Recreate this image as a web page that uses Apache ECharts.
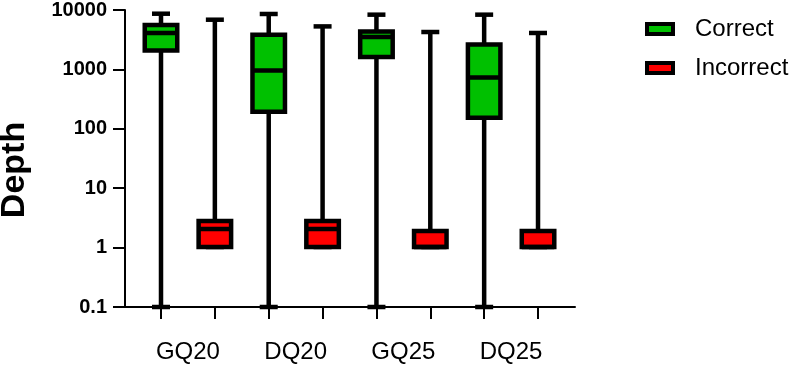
<!DOCTYPE html>
<html>
<head>
<meta charset="utf-8">
<script src="https://cdn.jsdelivr.net/npm/echarts@6/dist/echarts.min.js"></script>
<style>
html,body{margin:0;padding:0;background:#fff;}
#chart{width:790px;height:366px;}
</style>
</head>
<body>
<div id="chart"></div>
<script>
// ---- data ----
const categories = ['GQ20', 'DQ20', 'GQ25', 'DQ25'];
const tickSlots = ['GQ20 Correct', 'GQ20 Incorrect', 'DQ20 Correct', 'DQ20 Incorrect', 'GQ25 Correct', 'GQ25 Incorrect', 'DQ25 Correct', 'DQ25 Incorrect'];
// [min, Q1, median, Q3, max] per category
const correctBoxes = [
  [0.1, 1890, 3690, 5010, 7730],
  [0.1, 180, 877, 3450, 7650],
  [0.1, 1468, 3160, 3920, 7450],
  [0.1, 143, 671, 2380, 7450]
];
const incorrectBoxes = [
  [1, 1, 2, 2.7, 6140],
  [1, 1, 2, 2.7, 4750],
  [1, 1, 1, 1.85, 3830],
  [1, 1, 1, 1.85, 3690]
];
const yTicks = [0.1, 1, 10, 100, 1000, 10000];

// ---- layout ----
const FONT = 'Liberation Sans, Arial, sans-serif';
const TOP = 7, H = 300;
const firstTick = 161, step = 53.86;
const BOX_W = 32.5, CAP_W = 18, LW = 4.5;

const chart = echarts.init(document.getElementById('chart'), null, {renderer: 'canvas'});

function logAxis(gridIndex, show) {
  return {
    type: 'log', logBase: 10, gridIndex: gridIndex,
    min: yTicks[0], max: yTicks[yTicks.length - 1],
    show: show,
    splitNumber: 5,
    axisLine: {show: show, lineStyle: {color: '#000', width: 2}},
    axisTick: {show: show, length: 12, lineStyle: {color: '#000', width: 2}},
    minorTick: {show: false},
    splitLine: {show: false},
    axisLabel: {
      show: show, color: '#000', fontFamily: FONT, fontWeight: 'bold', fontSize: 20, margin: 18,
      formatter: function (v) { return String(Number(Number(v).toPrecision(6))); }
    }
  };
}

function renderBox(params, api) {
  const c = api.value(0);
  const pMin = api.coord([c, api.value(1)]);
  const pQ1 = api.coord([c, api.value(2)]);
  const pMed = api.coord([c, api.value(3)]);
  const pQ3 = api.coord([c, api.value(4)]);
  const pMax = api.coord([c, api.value(5)]);
  const cx = pMin[0];
  const color = api.visual('color');
  const ls = {stroke: '#000', lineWidth: LW, fill: null};
  return {
    type: 'group',
    children: [
      {type: 'line', shape: {x1: cx, y1: pMin[1], x2: cx, y2: pMax[1]}, style: ls},
      {type: 'line', shape: {x1: cx - CAP_W / 2, y1: pMax[1], x2: cx + CAP_W / 2, y2: pMax[1]}, style: ls},
      {type: 'line', shape: {x1: cx - CAP_W / 2, y1: pMin[1], x2: cx + CAP_W / 2, y2: pMin[1]}, style: ls},
      {type: 'rect', shape: {x: cx - BOX_W / 2, y: pQ3[1], width: BOX_W, height: pQ1[1] - pQ3[1]},
        style: {fill: color, stroke: '#000', lineWidth: LW}},
      {type: 'line', shape: {x1: cx - BOX_W / 2, y1: pMed[1], x2: cx + BOX_W / 2, y2: pMed[1]}, style: ls}
    ]
  };
}

function toCustomData(boxes) {
  return boxes.map(function (b, i) { return [i].concat(b); });
}

const option = {
  backgroundColor: '#fff',
  animation: false,
  grid: [
    {left: 125, width: 450, top: TOP, height: H},
    {left: firstTick - step / 2, width: step * 8, top: TOP, height: H},
    {left: firstTick - step, width: step * 8, top: TOP, height: H},
    {left: firstTick, width: step * 8, top: TOP, height: H}
  ],
  xAxis: [
    {type: 'value', gridIndex: 0, min: 0, max: 1, position: 'bottom', axisLine: {show: true, onZero: false, lineStyle: {color: '#000', width: 2}}, axisTick: {show: false}, axisLabel: {show: false}, splitLine: {show: false}},
    {type: 'category', gridIndex: 1, position: 'bottom', data: tickSlots, boundaryGap: true, axisLine: {show: false, onZero: false}, axisTick: {show: true, interval: 0, alignWithLabel: true, length: 12, lineStyle: {color: '#000', width: 2}}, axisLabel: {show: false, interval: 0}, splitLine: {show: false}},
    {type: 'category', gridIndex: 1, position: 'bottom', data: categories, boundaryGap: true, axisLine: {show: false, onZero: false}, axisTick: {show: false}, axisLabel: {show: true, interval: 0, color: '#000', fontFamily: FONT, fontSize: 24, margin: 33}},
    {type: 'category', gridIndex: 2, data: categories, show: false},
    {type: 'category', gridIndex: 3, data: categories, show: false}
  ],
  yAxis: [logAxis(0, true), logAxis(1, false), logAxis(2, false), logAxis(3, false)],
  legend: {
    orient: 'vertical', left: 645, top: 17, padding: 0,
    itemWidth: 26, itemHeight: 10, itemGap: 15, icon: 'rect',
    itemStyle: {borderColor: '#000', borderWidth: 4},
    textStyle: {color: '#000', fontFamily: FONT, fontSize: 24, lineHeight: 24, padding: [0, 0, 0, 17]},
    data: ['Correct', 'Incorrect']
  },
  graphic: [{
    type: 'text', x: 14.5, y: 170, rotation: Math.PI / 2,
    style: {text: 'Depth', fill: '#000', font: 'bold 34px ' + FONT, textAlign: 'center', textVerticalAlign: 'middle'}
  }],
  series: [
    {
      name: 'Correct', type: 'custom', xAxisIndex: 3, yAxisIndex: 2,
      renderItem: renderBox, data: toCustomData(correctBoxes),
      encode: {x: 0, y: [1, 2, 3, 4, 5]},
      itemStyle: {color: '#00c000'},
      emphasis: {disabled: true}
    },
    {
      name: 'Incorrect', type: 'custom', xAxisIndex: 4, yAxisIndex: 3,
      renderItem: renderBox, data: toCustomData(incorrectBoxes),
      encode: {x: 0, y: [1, 2, 3, 4, 5]},
      itemStyle: {color: '#ff0000'},
      emphasis: {disabled: true}
    }
  ]
};
chart.setOption(option);
</script>
</body>
</html>
